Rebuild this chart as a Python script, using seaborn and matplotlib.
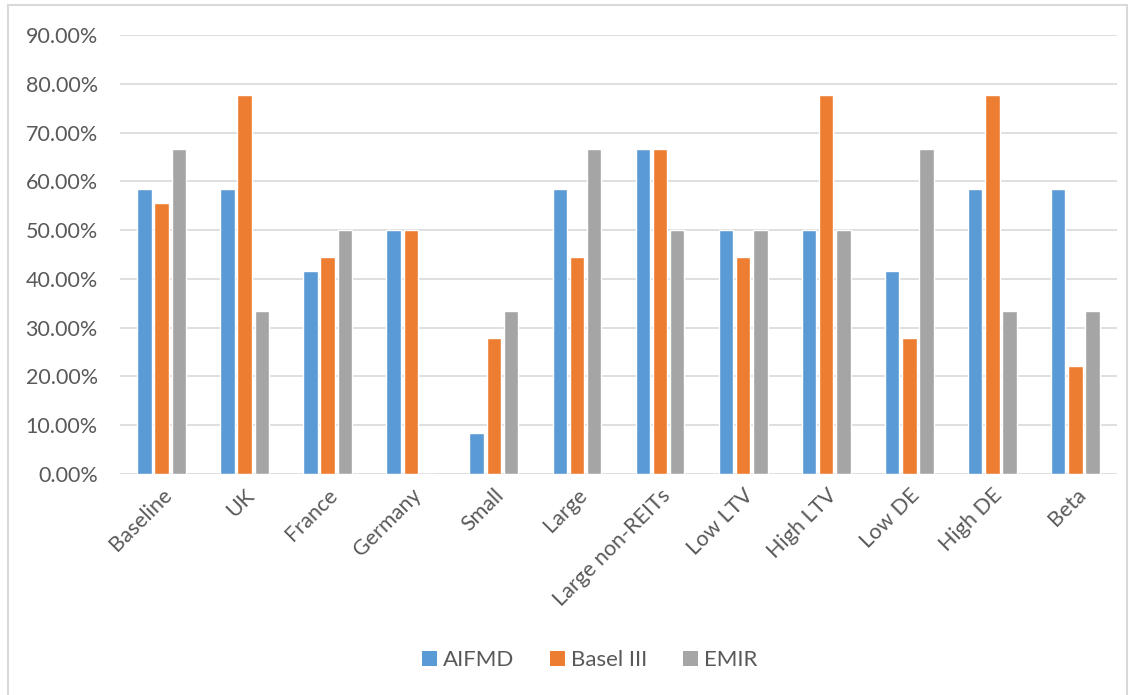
import matplotlib
matplotlib.use("Agg")
import matplotlib.pyplot as plt
from matplotlib.patches import Patch, Rectangle
from matplotlib.ticker import PercentFormatter
import seaborn as sns
import pandas as pd

categories = ["Baseline", "UK", "France", "Germany", "Small", "Large",
              "Large non-REITs", "Low LTV", "High LTV", "Low DE", "High DE", "Beta"]
aifmd = [0.5833, 0.5833, 0.4167, 0.5000, 0.0833, 0.5833,
         0.6667, 0.5000, 0.5000, 0.4167, 0.5833, 0.5833]
basel_iii = [0.5556, 0.7778, 0.4444, 0.5000, 0.2778, 0.4444,
             0.6667, 0.4444, 0.7778, 0.2778, 0.7778, 0.2222]
emir = [0.6667, 0.3333, 0.5000, 0.0, 0.3333, 0.6667,
        0.5000, 0.5000, 0.5000, 0.6667, 0.3333, 0.3333]
series_names = ["AIFMD", "Basel III", "EMIR"]
colors = ["#5B9BD5", "#ED7D31", "#A5A5A5"]

df = pd.DataFrame({
    "category": categories * 3,
    "series": [series_names[0]] * 12 + [series_names[1]] * 12 + [series_names[2]] * 12,
    "value": aifmd + basel_iii + emir,
})

sns.set_theme(style="white")
plt.rcParams["font.family"] = ["Lato", "DejaVu Sans"]
text_color = "#595959"

fig = plt.figure(figsize=(11.34, 6.95), dpi=100)
ax = fig.add_axes([120 / 1134, 1 - 474 / 695, (1117 - 120) / 1134, (474 - 35) / 695])

sns.barplot(data=df, x="category", y="value", hue="series", order=categories,
            hue_order=series_names, palette=colors, width=0.62, gap=0.16,
            saturation=1, ax=ax, legend=False)

ax.set_ylim(0, 0.9)
ax.set_yticks([i / 10 for i in range(10)])
ax.yaxis.set_major_formatter(PercentFormatter(xmax=1, decimals=2))
ax.grid(axis="y", color="#D9D9D9", linewidth=1.2)
ax.set_axisbelow(True)
for s in ax.spines.values():
    s.set_visible(False)
ax.set_xlabel("")
ax.set_ylabel("")
ax.tick_params(axis="y", labelsize=15.5, colors=text_color, length=0, pad=16)
ax.tick_params(axis="x", labelsize=15.5, colors=text_color, length=0, pad=8)
for lbl in ax.get_xticklabels():
    lbl.set_rotation(45)
    lbl.set_ha("right")
    lbl.set_rotation_mode("anchor")

handles = [Patch(facecolor=c, edgecolor="none") for c in colors]
fig.legend(handles, series_names, loc="center", bbox_to_anchor=(590 / 1134, 1 - 660 / 695),
           ncol=3, frameon=False, fontsize=16, labelcolor=text_color,
           handlelength=0.65, handleheight=0.65, handletextpad=0.3, columnspacing=1.6)

# outer chart border
fig.patches.append(Rectangle((8 / 1134, -0.05), (1127 - 8) / 1134, 1 - 5 / 695 + 0.05,
                             transform=fig.transFigure, fill=False,
                             edgecolor="#D9D9D9", linewidth=1.5))

fig.savefig("out.png", dpi=100)
